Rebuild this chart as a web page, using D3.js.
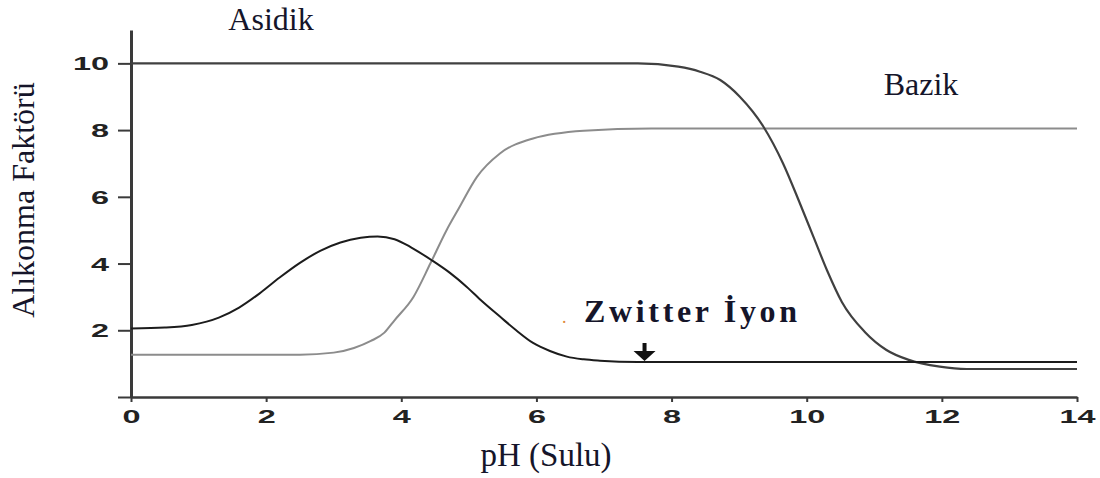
<!DOCTYPE html>
<html>
<head>
<meta charset="utf-8">
<script src="https://cdn.jsdelivr.net/npm/d3@7"></script>
<style>
  body { margin: 0; background: #fff; }
  svg { display: block; }
</style>
</head>
<body>
<svg id="chart" width="1100" height="478"></svg>
<script>
// Axis ticks
const xTicks = [0, 2, 4, 6, 8, 10, 12, 14];
const yTicks = [0, 2, 4, 6, 8, 10];

// Retention factor vs pH, [pH, k] pairs
const seriesBell = [[0, 2.05], [0.5, 2.08], [0.9, 2.16], [1.3, 2.38], [1.6, 2.68], [1.9, 3.1],
  [2.2, 3.58], [2.5, 4.02], [2.8, 4.38], [3.1, 4.63], [3.4, 4.77], [3.65, 4.81], [3.9, 4.73],
  [4.15, 4.48], [4.45, 4.1], [4.72, 3.72], [4.97, 3.3], [5.2, 2.86], [5.46, 2.41], [5.7, 2.0],
  [5.95, 1.62], [6.2, 1.38], [6.45, 1.21], [6.7, 1.13], [6.94, 1.09], [7.5, 1.05], [14, 1.05]];
const seriesRise = [[0, 1.27], [2.5, 1.27], [3.0, 1.33], [3.3, 1.47], [3.55, 1.68], [3.75, 1.93],
  [3.9, 2.3], [4.18, 3.0], [4.43, 4.0], [4.67, 5.0], [4.85, 5.65], [5.12, 6.6], [5.46, 7.3],
  [5.95, 7.75], [6.7, 7.98], [7.7, 8.05], [14, 8.05]];
const seriesFall = [[0, 10], [7.5, 10], [8.1, 9.9], [8.42, 9.75], [8.72, 9.5], [9.01, 9.0],
  [9.36, 8.1], [9.65, 7.0], [9.9, 5.8], [10.1, 4.8], [10.3, 3.8], [10.52, 2.85], [10.86, 1.95],
  [11.18, 1.41], [11.5, 1.12], [11.97, 0.91], [12.37, 0.84], [14, 0.84]];

// Annotations
const zwitterPH = 7.6;
const zwitterK = 1.05;
const labels = { acid: "Asidik", base: "Bazik", zwitter: "Zwitter İyon",
  xTitle: "pH (Sulu)", yTitle: "Alıkonma Faktörü" };

const svg = d3.select("#chart");
const x = d3.scaleLinear().domain([0, 14]).range([131, 1077]);
const y = d3.scaleLinear().domain([0, 11]).range([397, 30]);

const serif = "'Liberation Serif', 'Times New Roman', serif";
const sans = "'Liberation Sans', Arial, sans-serif";
const textColor = "#15152a";
const stretch = 1.8;

// y axis
const yAxis = svg.append("g").attr("transform", `translate(${x(0)},0)`)
  .call(d3.axisLeft(y).tickValues(yTicks).tickSize(13).tickSizeOuter(0).tickPadding(0)
    .tickFormat(d => d === 0 ? "" : d));
yAxis.select(".domain").attr("stroke", "#3a3a3a").attr("stroke-width", 3);
yAxis.selectAll(".tick line").attr("stroke", "#3a3a3a").attr("stroke-width", 2);
yAxis.selectAll(".tick text")
  .attr("x", -22 / stretch).attr("dy", "0.36em")
  .attr("transform", `scale(${stretch},1)`)
  .attr("font-family", sans).attr("font-weight", "bold").attr("font-size", 18)
  .attr("fill", "#222");

// x axis
const xAxis = svg.append("g").attr("transform", `translate(0,${y(0)})`)
  .call(d3.axisBottom(x).tickValues(xTicks).tickSize(5).tickSizeOuter(0).tickPadding(0));
xAxis.select(".domain").attr("stroke", "#3a3a3a").attr("stroke-width", 2.5);
xAxis.selectAll(".tick line").attr("stroke", "#3a3a3a").attr("stroke-width", 2);
xAxis.selectAll(".tick text")
  .attr("y", 26).attr("dy", 0)
  .attr("transform", `scale(${stretch},1)`)
  .attr("font-family", sans).attr("font-weight", "bold").attr("font-size", 18)
  .attr("fill", "#222");

// curves
const line = d3.line().x(d => x(d[0])).y(d => y(d[1])).curve(d3.curveMonotoneX);
const curves = [
  { data: seriesRise, color: "#8c8c8c", width: 2 },
  { data: seriesFall, color: "#404040", width: 2.2 },
  { data: seriesBell, color: "#1c1c1c", width: 2 }
];
svg.append("g").selectAll("path").data(curves).join("path")
  .attr("d", d => line(d.data))
  .attr("fill", "none")
  .attr("stroke", d => d.color)
  .attr("stroke-width", d => d.width);

// zwitterion marker arrow
const ax = x(zwitterPH), ay = y(zwitterK);
svg.append("path")
  .attr("d", `M${ax - 2},${ay - 19} L${ax + 2},${ay - 19} L${ax + 2},${ay - 11}
    L${ax + 11},${ay - 11} L${ax},${ay - 1} L${ax - 11},${ay - 11} L${ax - 2},${ay - 11} Z`)
  .attr("fill", "#111");

// text labels
svg.append("text").attr("x", 271).attr("y", 30).attr("text-anchor", "middle")
  .attr("font-family", serif).attr("font-size", 32).attr("fill", textColor).text(labels.acid);
svg.append("text").attr("x", 921).attr("y", 95).attr("text-anchor", "middle")
  .attr("font-family", serif).attr("font-size", 32).attr("fill", textColor).text(labels.base);
svg.append("text").attr("x", 562).attr("y", 323)
  .attr("font-family", serif).attr("font-size", 18).attr("fill", "#e0893a").text(".");
svg.append("text").attr("x", 584).attr("y", 322)
  .attr("font-family", serif).attr("font-size", 32).attr("font-weight", "bold")
  .attr("textLength", 213).attr("lengthAdjust", "spacing")
  .attr("fill", textColor).text(labels.zwitter);
svg.append("text").attr("x", 546).attr("y", 466).attr("text-anchor", "middle")
  .attr("font-family", serif).attr("font-size", 33).attr("fill", textColor).text(labels.xTitle);
svg.append("text").attr("transform", "translate(34,200) rotate(-90)").attr("text-anchor", "middle")
  .attr("font-family", serif).attr("font-size", 32).attr("fill", textColor).text(labels.yTitle);
</script>
</body>
</html>
